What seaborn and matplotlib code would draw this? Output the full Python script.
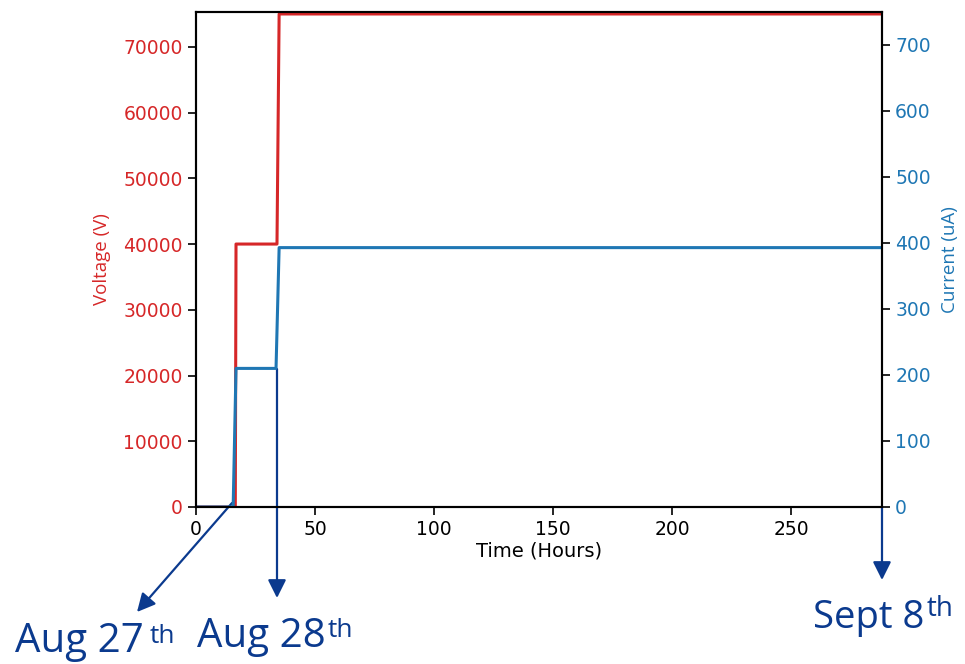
# Voltage / current ramp over time, twin y axes
import matplotlib
matplotlib.use("Agg")
import pandas as pd
import seaborn as sns
import matplotlib.pyplot as plt

# values
time_v = [0, 16.5, 16.8, 34.0, 34.9, 288]
voltage = [0, 0, 40000, 40000, 75000, 75000]
time_i = [0, 15.6, 16.8, 33.6, 34.9, 288]
current = [0, 0, 210, 210, 393, 393]

dates = ["Aug 27", "Aug 28", "Sept 8"]
x_ticks = [0, 50, 100, 150, 200, 250]
v_ticks = [0, 10000, 20000, 30000, 40000, 50000, 60000, 70000]
i_ticks = [0, 100, 200, 300, 400, 500, 600, 700]

red = "#d62728"
blue = "#1f77b4"
navy = "#0b3a8e"

df_v = pd.DataFrame({"Time": time_v, "Voltage": voltage})
df_i = pd.DataFrame({"Time": time_i, "Current": current})

sns.set_style("ticks")
plt.rcParams["font.family"] = ["DejaVu Sans"]

fig = plt.figure(figsize=(9.65, 6.64), dpi=100)
ax = fig.add_axes([196 / 965, 1 - 507 / 664, (882 - 196) / 965, (507 - 12) / 664])

sns.lineplot(data=df_v, x="Time", y="Voltage", color=red, lw=2.2, ax=ax, sort=False)
ax.set_xlim(0, 288)
ax.set_ylim(0, 75300)
ax.set_xticks(x_ticks)
ax.set_yticks(v_ticks)
ax.set_xlabel("Time (Hours)", fontsize=14, color="black", labelpad=2)
ax.set_ylabel("Voltage (V)", color=red, fontsize=13.5, family="Open Sans", labelpad=9)
ax.tick_params(axis="y", labelcolor=red, labelsize=13.5, length=6, width=1.2, color="black")
ax.tick_params(axis="x", labelcolor="black", labelsize=13.5, length=6, width=1.2, color="black")

ax2 = ax.twinx()
sns.lineplot(data=df_i, x="Time", y="Current", color=blue, lw=2.2, ax=ax2, sort=False)
ax2.set_ylim(0, 750)
ax2.set_yticks(i_ticks)
ax2.set_ylabel("Current (uA)", color=blue, fontsize=13.5, family="Open Sans", labelpad=7)
ax2.tick_params(axis="y", labelcolor=blue, labelsize=13.5, length=6, width=1.2, color="black")

for a in (ax, ax2):
    for s in a.spines.values():
        s.set_color("black")
        s.set_linewidth(1.5)

# date annotations (figure pixel coordinates, origin bottom-left)
H = 664
arrows = [((232, H - 503), (137, H - 612)),
          ((277, H - 369), (277, H - 598)),
          ((882, H - 507), (882, H - 580))]
for tail, head in arrows:
    ax.annotate("", xy=head, xycoords="figure pixels", xytext=tail,
                textcoords="figure pixels", annotation_clip=False,
                arrowprops=dict(arrowstyle="-|>,head_length=1.0,head_width=0.5",
                                mutation_scale=11, color=navy, lw=1.6,
                                shrinkA=0, shrinkB=0))

sizes = [29, 29, 27.5]
sup_sizes = [19, 19, 20]
text_pos = [(15, H - 652), (197, H - 647), (813, H - 628)]
sup_pos = [(150, H - 643), (328, H - 637), (927, H - 616)]
for label, fs, sfs, (x, y), (sx, sy) in zip(dates, sizes, sup_sizes, text_pos, sup_pos):
    fig.text(x / 965, y / H, label, fontsize=fs, color=navy, family="Open Sans",
             ha="left", va="baseline")
    fig.text(sx / 965, sy / H, "th", fontsize=sfs, color=navy, family="Open Sans",
             ha="left", va="baseline")

fig.savefig("out.png", dpi=100)
